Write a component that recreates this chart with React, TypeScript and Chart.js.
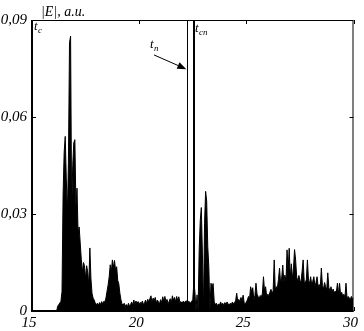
import { useEffect, useRef } from "react";
import { Chart, registerables } from "chart.js";
Chart.register(...registerables);

// sampling grid of the trace: t = 15.00, 15.05, ... (one array per unit of t)
const T_START = 15;
const T_STEP = 0.05;

const e15 = [0, 0, 0, 0, 0, 0, 0, 0, 0, 0, 0, 0, 0, 0, 0, 0, 0, 0, 0, 0];
const e16 = [0, 0, 0, 0, 0.0015, 0.002, 0.0025, 0.003, 0.006, 0.036, 0.049, 0.054, 0.041, 0.03, 0.046, 0.083, 0.085, 0.031, 0.045, 0.052];
const e17 = [0.053, 0.032, 0.038, 0.024, 0.026, 0.021, 0.016, 0.012, 0.015, 0.014, 0.01, 0.014, 0.012, 0.008, 0.0195, 0.01, 0.0055, 0.004, 0.0034, 0.0025];
const e18 = [0.002, 0.0024, 0.0018, 0.0026, 0.002, 0.0029, 0.0022, 0.003, 0.0028, 0.004, 0.0061, 0.008, 0.0105, 0.0143, 0.012, 0.0158, 0.0135, 0.0156, 0.0125, 0.0137];
const e19 = [0.0095, 0.0084, 0.0055, 0.0035, 0.0022, 0.0018, 0.0024, 0.0015, 0.002, 0.0012, 0.0024, 0.0015, 0.002, 0.0028, 0.0018, 0.0034, 0.002, 0.0031, 0.0024, 0.0029];
const e20 = [0.0019, 0.0027, 0.0022, 0.0031, 0.002, 0.0025, 0.0034, 0.0022, 0.0036, 0.0028, 0.0038, 0.0047, 0.0026, 0.004, 0.0032, 0.0042, 0.0025, 0.0034, 0.0028, 0.0022];
const e21 = [0.0035, 0.0026, 0.0044, 0.003, 0.0045, 0.0028, 0.0036, 0.0022, 0.003, 0.0038, 0.0025, 0.0047, 0.0033, 0.0042, 0.0028, 0.0045, 0.0032, 0.0044, 0.0026, 0.0029];
const e22 = [0.0024, 0.003, 0.0027, 0.0028, 0.0032, 0.0026, 0.003, 0.0028, 0.0025, 0.003, 0.0035, 0.0086, 0.006, 0.0, 0.005, 0.0, 0.019, 0.028, 0.032, 0.018];
const e23 = [0.0, 0.027, 0.037, 0.034, 0.02, 0.0137, 0.0, 0.0086, 0.0075, 0.0085, 0.003, 0.0019, 0.0024, 0.0016, 0.0022, 0.0018, 0.0028, 0.0019, 0.0024, 0.0017];
const e24 = [0.0026, 0.002, 0.0028, 0.0022, 0.0018, 0.0024, 0.002, 0.0028, 0.0022, 0.0026, 0.0032, 0.0055, 0.003, 0.0036, 0.0028, 0.0042, 0.003, 0.0049, 0.0025, 0.0022];
const e25 = [0.0028, 0.0034, 0.0045, 0.0038, 0.0075, 0.006, 0.0072, 0.0035, 0.0048, 0.0086, 0.0052, 0.0045, 0.0038, 0.0048, 0.0042, 0.0055, 0.0106, 0.0062, 0.0075, 0.0045];
const e26 = [0.0052, 0.0048, 0.0058, 0.0067, 0.0055, 0.0062, 0.0158, 0.0068, 0.0075, 0.0072, 0.0098, 0.0133, 0.0085, 0.0102, 0.0142, 0.0088, 0.0111, 0.0092, 0.0189, 0.0125];
const e27 = [0.0194, 0.0105, 0.0146, 0.0098, 0.0133, 0.019, 0.0158, 0.0105, 0.0092, 0.011, 0.0095, 0.0088, 0.0122, 0.0158, 0.0092, 0.0086, 0.0098, 0.0158, 0.0095, 0.0085];
const e28 = [0.0106, 0.0082, 0.0092, 0.0106, 0.0078, 0.0088, 0.0106, 0.0075, 0.0082, 0.0072, 0.0133, 0.0078, 0.0068, 0.0088, 0.0075, 0.0065, 0.0118, 0.0072, 0.0062, 0.0075];
const e29 = [0.0058, 0.0068, 0.0055, 0.0062, 0.0058, 0.0086, 0.0052, 0.0086, 0.0048, 0.0058, 0.0045, 0.0052, 0.0042, 0.0086, 0.0038, 0.0045, 0.0041, 0.0035, 0.0045, 0.0038];
const e30 = [0.004];

const xTicks = [15, 20, 25, 30];
const xTickLabels = ["15", "20", "25", "30"];
const yTicks = [0, 0.03, 0.06, 0.09];
const yTickLabels = ["0", "0,03", "0,06", "0,09"];

// vertical marker lines (t values)
const markerLines = [22.25, 22.55];

// annotations in data coordinates
const axisTitle = { t: 15.42, v: 0.0912, main: "|E|", rest: ", a.u." };
const labelTc = { t: 15.09, v: 0.0868, sub: "c" };
const labelTp = { t: 20.5, v: 0.0812, sub: "п" };
const labelTsp = { t: 22.6, v: 0.0862, sub: "сп" };
const arrowFrom = { t: 20.69, v: 0.0792 };
const arrowTo = { t: 22.2, v: 0.0748 };

const SERIF = "'Liberation Serif', 'Times New Roman', serif";

function buildPoints() {
  const segs = [e15, e16, e17, e18, e19, e20, e21, e22, e23, e24, e25, e26, e27, e28, e29, e30];
  const pts: { x: number; y: number }[] = [];
  let i = 0;
  for (const s of segs) {
    for (const v of s) {
      pts.push({ x: Math.round((T_START + i * T_STEP) * 100) / 100, y: v });
      i++;
    }
  }
  return pts;
}

const decor = {
  id: "decor",
  afterDraw(chart: any) {
    const { ctx, chartArea: a, scales } = chart;
    const xs = scales.x;
    const ys = scales.y;
    const P = (t: number, v: number) => [xs.getPixelForValue(t), ys.getPixelForValue(v)];
    ctx.save();
    ctx.strokeStyle = "#000";
    ctx.fillStyle = "#000";

    // marker lines
    markerLines.forEach((t, k) => {
      const px = Math.round(xs.getPixelForValue(t));
      ctx.lineWidth = k === 0 ? 1 : 2;
      ctx.beginPath();
      const off = k === 0 ? 0.5 : 0;
      ctx.moveTo(px + off, a.top);
      ctx.lineTo(px + off, a.bottom);
      ctx.stroke();
    });

    // frame
    ctx.lineWidth = 2;
    ctx.beginPath();
    ctx.moveTo(a.left, a.top);
    ctx.lineTo(a.left, a.bottom);
    ctx.lineTo(a.right, a.bottom);
    ctx.stroke();
    ctx.lineWidth = 1;
    ctx.beginPath();
    ctx.moveTo(a.left, a.top + 0.5);
    ctx.lineTo(a.right - 0.5, a.top + 0.5);
    ctx.lineTo(a.right - 0.5, a.bottom);
    ctx.stroke();

    // inward ticks
    ctx.beginPath();
    xTicks.forEach((t) => {
      const px = Math.round(xs.getPixelForValue(t)) + 0.5;
      ctx.moveTo(px, a.top);
      ctx.lineTo(px, a.top + 4);
      ctx.moveTo(px, a.bottom);
      ctx.lineTo(px, a.bottom - 4);
    });
    yTicks.forEach((v) => {
      const py = Math.round(ys.getPixelForValue(v)) + 0.5;
      ctx.moveTo(a.left, py);
      ctx.lineTo(a.left + 4, py);
      ctx.moveTo(a.right, py);
      ctx.lineTo(a.right - 4, py);
    });
    ctx.stroke();

    // arrow
    const [x0, y0] = P(arrowFrom.t, arrowFrom.v);
    const [x1, y1] = P(arrowTo.t, arrowTo.v);
    const ang = Math.atan2(y1 - y0, x1 - x0);
    const hl = 9, hw = 3.5;
    const bx = x1 - hl * Math.cos(ang), by = y1 - hl * Math.sin(ang);
    ctx.beginPath();
    ctx.moveTo(x0, y0);
    ctx.lineTo(bx, by);
    ctx.stroke();
    ctx.beginPath();
    ctx.moveTo(x1, y1);
    ctx.lineTo(bx - hw * Math.sin(ang), by + hw * Math.cos(ang));
    ctx.lineTo(bx + hw * Math.sin(ang), by - hw * Math.cos(ang));
    ctx.closePath();
    ctx.fill();

    // texts
    ctx.textBaseline = "alphabetic";
    ctx.textAlign = "left";
    const drawT = (lab: { t: number; v: number; sub: string }) => {
      const [px, py] = P(lab.t, lab.v);
      ctx.font = `italic 13px ${SERIF}`;
      ctx.fillText("t", px, py);
      const w = ctx.measureText("t").width;
      ctx.font = `italic 9px ${SERIF}`;
      ctx.fillText(lab.sub, px + w + 0.5, py + 3);
    };
    drawT(labelTc);
    drawT(labelTp);
    drawT(labelTsp);

    const [tx, ty] = P(axisTitle.t, axisTitle.v);
    ctx.font = `italic 14px ${SERIF}`;
    ctx.fillText(axisTitle.main + axisTitle.rest, tx, ty);

    ctx.restore();
  },
};

export default function App() {
  const ref = useRef<HTMLCanvasElement | null>(null);
  useEffect(() => {
    if (!ref.current) return;
    const chart = new Chart(ref.current, {
      type: "line",
      data: {
        datasets: [
          {
            data: buildPoints(),
            borderColor: "#000",
            backgroundColor: "#000",
            borderWidth: 1,
            pointRadius: 0,
            fill: "origin",
            tension: 0,
          },
        ],
      },
      options: {
        animation: false,
        responsive: true,
        maintainAspectRatio: false,
        layout: { padding: { left: 0, right: 8, top: 20, bottom: 0 } },
        plugins: { legend: { display: false }, tooltip: { enabled: false } },
        scales: {
          x: {
            type: "linear",
            min: 15,
            max: 30,
            afterBuildTicks: (s: any) => {
              s.ticks = xTicks.map((v) => ({ value: v }));
            },
            afterFit: (s: any) => {
              s.height = 20;
            },
            grid: { display: false, drawTicks: false },
            border: { display: false },
            ticks: {
              autoSkip: false,
              maxRotation: 0,
              padding: 3,
              labelOffset: -3,
              color: "#000",
              font: { family: SERIF, style: "italic", size: 15 },
              callback: (_v: any, i: number) => xTickLabels[i],
            },
          },
          y: {
            type: "linear",
            min: 0,
            max: 0.09,
            afterBuildTicks: (s: any) => {
              s.ticks = yTicks.map((v) => ({ value: v }));
            },
            afterFit: (s: any) => {
              s.width = 32;
            },
            grid: { display: false, drawTicks: false },
            border: { display: false },
            ticks: {
              autoSkip: false,
              padding: 5,
              color: "#000",
              font: { family: SERIF, style: "italic", size: 15 },
              callback: (_v: any, i: number) => yTickLabels[i],
            },
          },
        },
      },
      plugins: [decor],
    });
    return () => chart.destroy();
  }, []);
  return (
    <div style={{ position: "fixed", left: 0, top: 0, width: 364, height: 331, background: "#fff" }}>
      <canvas ref={ref} />
    </div>
  );
}
